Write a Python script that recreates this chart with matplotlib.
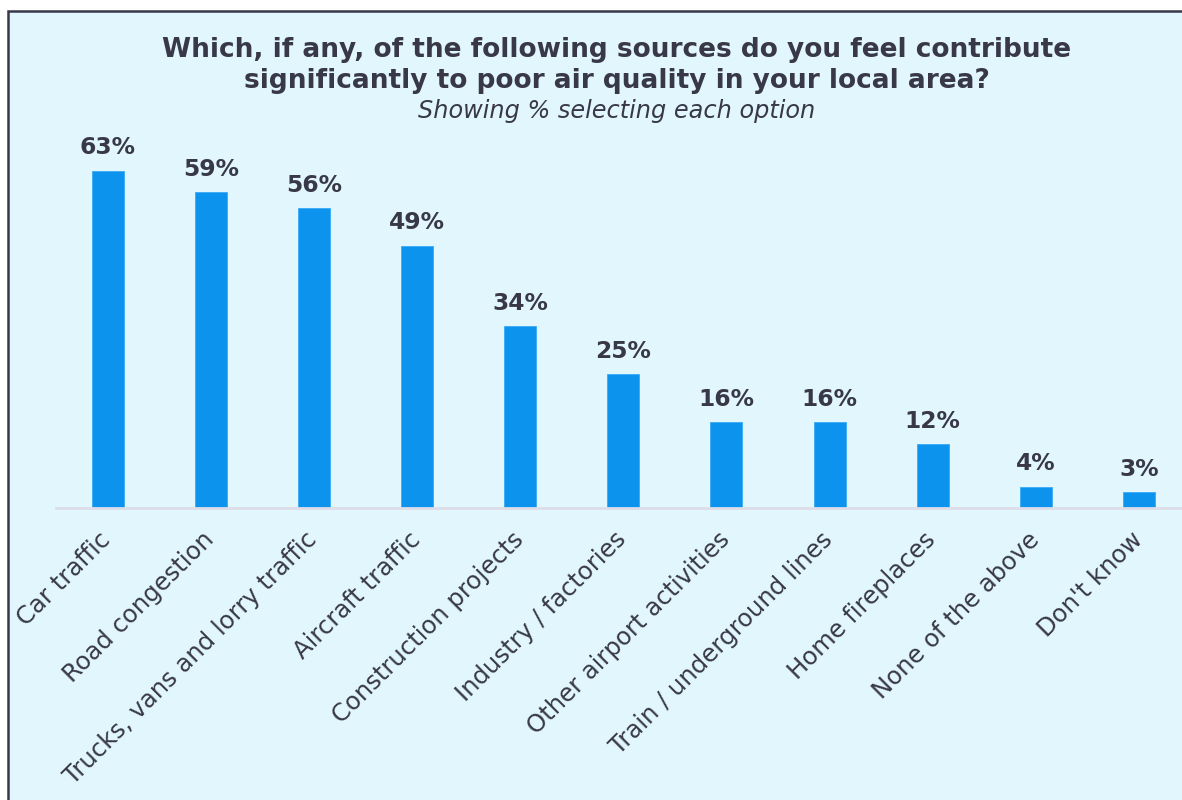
import matplotlib.pyplot as plt
import matplotlib.transforms as mtransforms
from matplotlib.patches import Rectangle

plt.rcParams['font.family'] = ['DejaVu Sans']

# Survey results: % selecting each source of poor air quality
sources = ['Car traffic', 'Road congestion', 'Trucks, vans and lorry traffic',
           'Aircraft traffic', 'Construction projects', 'Industry / factories',
           'Other airport activities', 'Train / underground lines',
           'Home fireplaces', 'None of the above', "Don't know"]
percent = [63, 59, 56, 49, 34, 25, 16, 16, 12, 4, 3]

W, H = 1182, 800
bg = '#e1f6fd'
dark = '#383848'
blue = '#0b93ee'

fig = plt.figure(figsize=(W / 100, H / 100), dpi=100)
fig.patch.set_facecolor('white')

# light panel with a dark frame, running off the right and bottom edges
panel = Rectangle((8 / W, -0.05), 1.1, (H - 11) / H + 0.05, transform=fig.transFigure,
                  facecolor=bg, edgecolor=dark, linewidth=1.8, zorder=-1)
fig.patches.append(panel)

ax = fig.add_axes([56 / W, (H - 508) / H, (1190.6 - 56) / W, 375 / H])
ax.set_facecolor('none')
x = range(len(sources))
ax.bar(x, percent, width=0.31, color=blue, edgecolor='#3aaaf5', linewidth=0.6, zorder=2)
ax.set_xlim(-0.5, len(sources) - 0.5)
ax.set_ylim(0, 70)

for i, v in zip(x, percent):
    ax.annotate(f'{v}%', (i, v), xytext=(0, 8), textcoords='offset points',
                ha='center', va='bottom', fontsize=16.8, fontweight='bold', color=dark)

for s in ['top', 'right', 'left']:
    ax.spines[s].set_visible(False)
ax.spines['bottom'].set_color('#dcdde8')
ax.spines['bottom'].set_linewidth(2)
ax.set_yticks([])
ax.set_xticks(list(x))
ax.set_xticklabels(sources, rotation=45, ha='right', rotation_mode='anchor',
                   fontsize=17.5, color=dark)
ax.tick_params(axis='x', length=0, pad=14)
shift = mtransforms.ScaledTranslation(-9 / 100, 0, fig.dpi_scale_trans)
for lbl in ax.get_xticklabels():
    lbl.set_transform(lbl.get_transform() + shift)

fig.text(617 / W, 1 - 50 / H, 'Which, if any, of the following sources do you feel contribute',
         ha='center', va='center', fontsize=19, fontweight='bold', color=dark)
fig.text(617 / W, 1 - 81 / H, 'significantly to poor air quality in your local area?',
         ha='center', va='center', fontsize=19, fontweight='bold', color=dark)
fig.text(617 / W, 1 - 111 / H, 'Showing % selecting each option',
         ha='center', va='center', fontsize=17.3, fontstyle='italic', color=dark)

fig.savefig('out.png', dpi=100, facecolor=fig.get_facecolor())
